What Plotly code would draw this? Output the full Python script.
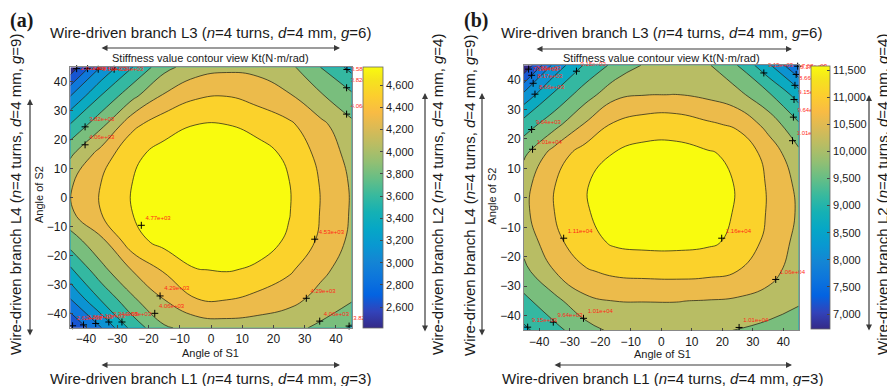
import plotly.graph_objects as go

W, H = 887, 386
SANS = "Liberation Sans, Arial, Helvetica, sans-serif"
SERIF = "Liberation Serif, Times New Roman, serif"

# ---------------- data ----------------
s1_angles = [-45, -35, -25, -15, -5, 5, 15, 25, 35, 45]
s2_angles = [-45, -35, -25, -15, -5, 5, 15, 25, 35, 45]

# Kt (N·m/rad): one row per S2 angle (from -45 up to 45), one column per S1 angle
kt_a = [
    [2600, 3102, 3674, 4025, 4130, 4175, 4170, 4130, 4007, 3780],
    [3102, 3618, 4023, 4300, 4530, 4545, 4458, 4370, 4220, 4090],
    [3535, 3987, 4309, 4560, 4760, 4785, 4740, 4570, 4350, 4180],
    [3936, 4244, 4690, 4848, 4926, 4926, 4848, 4745, 4488, 4240],
    [4260, 4540, 4775, 4926, 5004, 5004, 4926, 4780, 4525, 4270],
    [4265, 4540, 4775, 4926, 5004, 5004, 4926, 4775, 4520, 4265],
    [4015, 4400, 4720, 4848, 4926, 4926, 4848, 4730, 4459, 4210],
    [3600, 4004, 4480, 4680, 4772, 4775, 4705, 4580, 4360, 4110],
    [3102, 3600, 4000, 4330, 4500, 4530, 4440, 4320, 4090, 3873],
    [2460, 3130, 3580, 3980, 4180, 4240, 4225, 4120, 3817, 3500],
]
kt_b = [
    [9050, 9493, 9926, 10250, 10350, 10370, 10280, 10100, 9990, 9900],
    [9518, 9983, 10498, 10625, 10630, 10630, 10600, 10549, 10400, 10180],
    [9996, 10615, 11050, 11217, 11263, 11280, 11244, 11105, 10836, 10330],
    [10300, 10970, 11420, 11680, 11731, 11731, 11680, 11500, 10970, 10480],
    [10500, 11115, 11560, 11783, 11950, 11950, 11783, 11560, 11070, 10560],
    [10450, 11090, 11570, 11783, 11950, 11950, 11783, 11570, 11060, 10500],
    [10038, 10849, 11336, 11630, 11760, 11760, 11660, 11480, 10938, 10250],
    [9376, 9950, 10660, 11187, 11370, 11380, 11190, 11018, 10450, 9701],
    [8310, 9250, 9900, 10500, 10610, 10625, 10520, 10274, 9732, 8932],
    [6760, 8333, 9211, 9787, 10200, 10300, 10200, 9635, 8770, 7650],
]

# contour levels (evenly spaced)
levels_a = [2625, 2863, 3102, 3340, 3578, 3817, 4055, 4293, 4532, 4770]
levels_b = [7190, 7680, 8170, 8660, 9150, 9640, 10130, 10620, 11110, 11600]

# colour-bar limits and ticks
cbar_a = [2410, 4760]
cbar_b = [6730, 11580]
cticks_a = [2600, 2800, 3000, 3200, 3400, 3600, 3800, 4000, 4200, 4400, 4600]
cticks_b = [7000, 7500, 8000, 8500, 9000, 9500, 10000, 10500, 11000, 11500]

# labelled contour points: S1, S2, index into the level list
lab_a_s1 = [-22.3, 33.2, -16.3, 30.5, -18.0, -40.3, -40.3, 43.4, 43.4, 43.5,
            34.8, 44.2, -43.0, -39.5, -36.1, -31.0, -44.3, -40.8, -36.9, -32.7, -28.5]
lab_a_s2 = [-9.6, -14.4, -34.0, -34.8, -40.0, 24.4, 18.2, 37.9, 28.8, 44.2,
            -42.7, -44.4, 44.5, 44.5, 44.3, 44.3, -44.3, -44.0, -43.5, -43.0, -43.0]
lab_a_lvl = [9, 8, 7, 7, 6, 5, 6, 5, 6, 4, 6, 5, 0, 1, 2, 3, 0, 1, 2, 3, 4]

lab_b_s1 = [-32.0, 19.8, 37.5, -42.2, -42.5, -25.5, 25.5, -35.4, -43.8,
            -43.5, -42.5, -42.0, -41.4, -27.8, 44.2, 43.8, 43.5, 43.3, 43.0, 44.7, 33.6]
lab_b_s2 = [-13.7, -13.7, -27.7, 16.5, 23.2, -40.9, -44.0, -42.2, -43.9,
            43.7, 41.6, 38.9, 35.2, 43.0, 41.9, 38.2, 33.4, 27.4, 19.4, 44.7, 42.4]
lab_b_lvl = [8, 9, 7, 6, 5, 6, 6, 5, 4, 0, 1, 2, 3, 4, 2, 3, 4, 5, 6, 1, 4]

# ---------------- styling ----------------
PARULA = [
    [0.000, "rgb(53,42,135)"], [0.063, "rgb(50,67,186)"], [0.127, "rgb(3,99,225)"],
    [0.190, "rgb(13,117,220)"], [0.254, "rgb(20,133,212)"], [0.317, "rgb(9,152,209)"],
    [0.381, "rgb(6,167,198)"], [0.444, "rgb(21,177,180)"], [0.508, "rgb(56,185,158)"],
    [0.571, "rgb(101,190,134)"], [0.635, "rgb(146,191,115)"], [0.698, "rgb(183,189,100)"],
    [0.762, "rgb(217,186,86)"], [0.825, "rgb(248,187,68)"], [0.889, "rgb(252,206,46)"],
    [0.952, "rgb(245,228,29)"], [1.000, "rgb(249,251,14)"],
]
TXT = "#1a1a1a"


def px(x):
    return x / W


def py(y):
    return 1 - y / H


fig = go.Figure()


def add_panel(z, levels, xa, ya):
    size = (levels[-1] - levels[0]) / (len(levels) - 1)
    fig.add_trace(go.Contour(
        x=s1_angles, y=s2_angles, z=z, autocontour=False,
        contours=dict(start=levels[0], end=levels[-1], size=size,
                      coloring="fill", showlines=True),
        line=dict(color="rgba(40,40,25,0.85)", width=0.9, smoothing=1.3),
        colorscale=PARULA, showscale=False, hoverinfo="skip",
        xaxis=xa, yaxis=ya))


def add_labels(sx, sy, idx, levels, xa, ya):
    fig.add_trace(go.Scatter(
        x=sx, y=sy, mode="markers+text",
        text=[f"{levels[i]:.2e}" for i in idx],
        textposition=["middle right" if v > 43 else "top right" for v in sy],
        textfont=dict(size=6, color="#ff2a1a", family=SANS),
        marker=dict(symbol="cross-thin", size=5, line=dict(width=1, color="black")),
        cliponaxis=False, hoverinfo="skip", showlegend=False,
        xaxis=xa, yaxis=ya))


def add_colorbar(lims, ticks, x_px, top_px, len_px, thick_px, xa, ya):
    fig.add_trace(go.Scatter(
        x=[0], y=[0], mode="markers", hoverinfo="skip", showlegend=False,
        xaxis=xa, yaxis=ya,
        marker=dict(size=1, opacity=0, color=[lims[0]], cmin=lims[0], cmax=lims[1],
                    colorscale=PARULA, showscale=True,
                    colorbar=dict(x=px(x_px), xanchor="left", xpad=0,
                                  y=py(top_px), yanchor="top", ypad=0,
                                  len=len_px, lenmode="pixels",
                                  thickness=thick_px, thicknessmode="pixels",
                                  tickvals=ticks, tickformat=",d",
                                  ticks="inside", ticklen=3, tickcolor="#444",
                                  outlinewidth=0.8, outlinecolor="#666",
                                  tickfont=dict(size=11, family=SANS, color=TXT)))))


add_panel(kt_a, levels_a, "x", "y")
add_panel(kt_b, levels_b, "x2", "y2")
add_labels(lab_a_s1, lab_a_s2, lab_a_lvl, levels_a, "x", "y")
add_labels(lab_b_s1, lab_b_s2, lab_b_lvl, levels_b, "x2", "y2")
add_colorbar(cbar_a, cticks_a, 362.7, 67.3, 261, 19.6, "x", "y")
add_colorbar(cbar_b, cticks_b, 811, 65.7, 263, 19, "x2", "y2")

axis_style = dict(range=[-45, 45], tickvals=[-40, -30, -20, -10, 0, 10, 20, 30, 40],
                  ticks="inside", ticklen=3, tickwidth=0.8, tickcolor="#444",
                  showline=True, mirror=True, linecolor="#888", linewidth=0.8,
                  showgrid=False, zeroline=False,
                  tickfont=dict(size=12, family=SANS, color=TXT))

fig.update_layout(
    width=W, height=H, margin=dict(l=0, r=0, t=0, b=0),
    paper_bgcolor="white", plot_bgcolor="white", showlegend=False,
    xaxis=dict(domain=[px(70.4), px(351.6)], anchor="y", **axis_style),
    yaxis=dict(domain=[py(327.8), py(67.2)], anchor="x", **axis_style),
    xaxis2=dict(domain=[px(524.0), px(798.6)], anchor="y2", **axis_style),
    yaxis2=dict(domain=[py(330.4), py(65.3)], anchor="x2", **axis_style),
)

notes = []


def note(text, x, y, size, angle=0, family=SANS):
    notes.append(dict(text=text, x=px(x), y=py(y), xref="paper", yref="paper",
                      showarrow=False, textangle=angle, xanchor="center", yanchor="middle",
                      font=dict(size=size, family=family, color=TXT)))


def arrow(x0, y0, x1, y1):
    notes.append(dict(text="", x=px(x1), y=py(y1), xref="paper", yref="paper",
                      ax=x0 - x1, ay=y0 - y1, axref="pixel", ayref="pixel",
                      showarrow=True, arrowhead=2, arrowsize=1, arrowwidth=1.2,
                      arrowcolor="#3a3a3a", arrowside="end+start",
                      standoff=0, startstandoff=0))


def branch(name, n, d, g):
    return f"Wire-driven branch {name} (<i>n</i>={n} turns, <i>d</i>={d} mm, <i>g</i>={g})"


# panel (a)
note("<b>(a)</b>", 21.5, 21, 20, family=SERIF)
note(branch("L3", 4, 4, 6), 210, 33, 15)
arrow(100, 48, 340, 48)
note("Stiffness value contour view Kt(N·m/rad)", 210, 58, 11)
note(branch("L4", 4, 4, 9), 15, 195, 15, angle=-90)
arrow(30, 337, 30, 99)
note(branch("L2", 4, 4, 4), 437, 195, 15, angle=-90)
arrow(425, 333, 425, 93)
note("Angle of S1", 210, 353, 11)
note("Angle of S2", 39, 195, 11, angle=-90)
arrow(100, 365, 340, 365)
note(branch("L1", 4, 4, 3), 210, 378, 15)

# panel (b)
note("<b>(b)</b>", 476, 21, 20, family=SERIF)
note(branch("L3", 4, 4, 6), 661, 33, 15)
arrow(535, 49, 792, 49)
note("Stiffness value contour view Kt(N·m/rad)", 661, 58, 11)
note(branch("L4", 4, 4, 9), 469, 195, 15, angle=-90)
arrow(482, 337, 482, 93)
note(branch("L2", 4, 4, 4), 882, 195, 15, angle=-90)
arrow(869, 332, 869, 95)
note("Angle of S1", 662, 354, 11)
note("Angle of S2", 491.5, 196, 11, angle=-90)
arrow(553, 365, 792, 365)
note(branch("L1", 4, 4, 3), 662, 378, 15)

fig.update_layout(annotations=notes)
fig.write_html("out.html")
